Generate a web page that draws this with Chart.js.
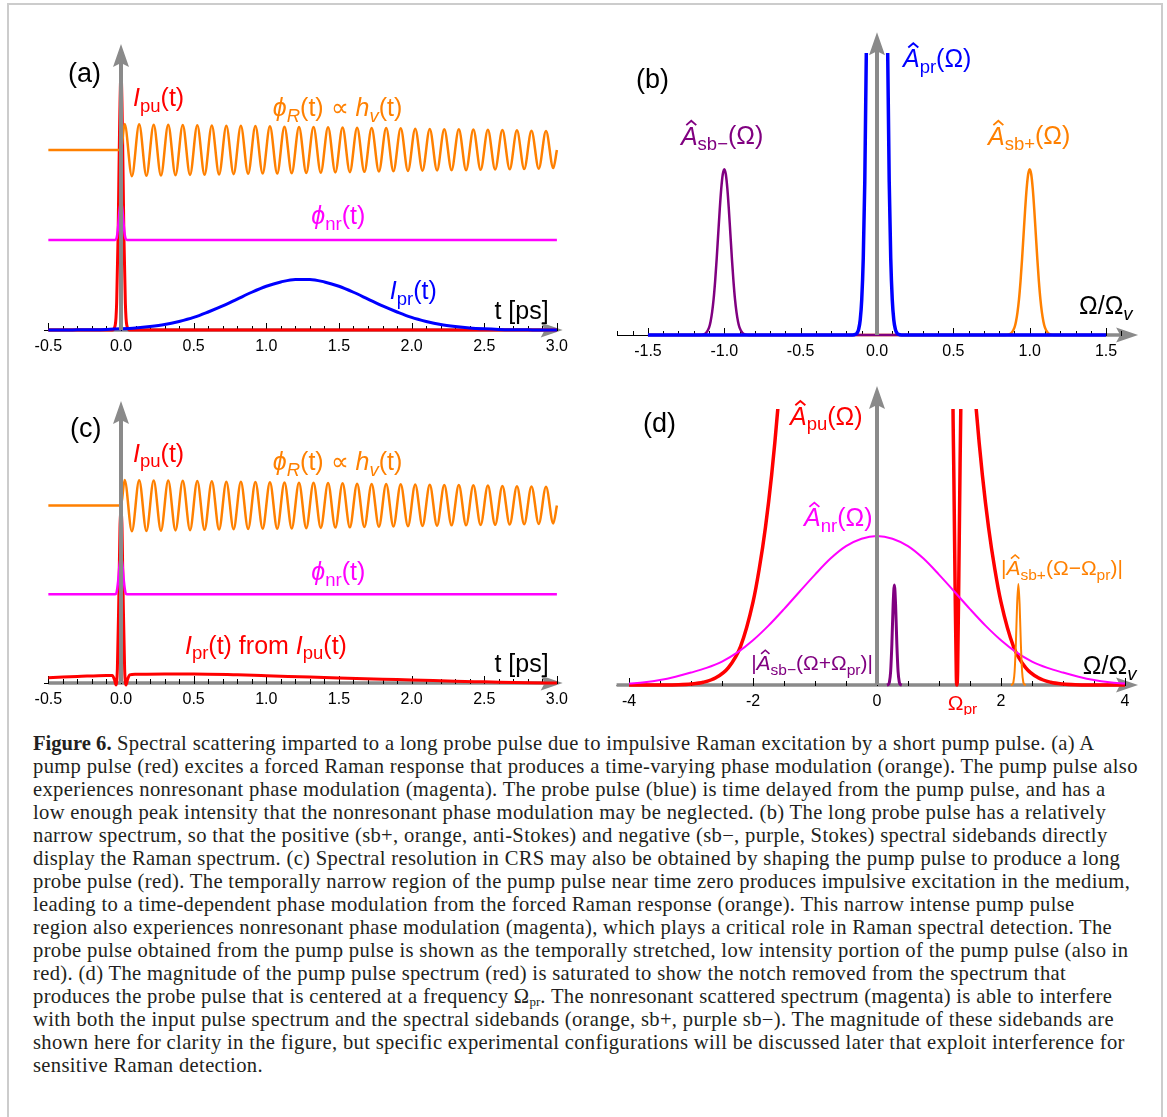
<!DOCTYPE html>
<html><head><meta charset="utf-8">
<script src="https://cdn.jsdelivr.net/npm/chart.js@4.4.1/dist/chart.umd.min.js"></script>
<style>
html,body{margin:0;padding:0;background:#fff;}
body{width:1167px;height:1117px;position:relative;overflow:hidden;}
#frame{position:absolute;left:7px;top:3px;width:1156px;height:1140px;border:2px solid #cccccc;box-sizing:border-box;}
canvas{position:absolute;}
#cap{position:absolute;left:33px;top:732px;font-family:"Liberation Serif","Times New Roman",serif;font-size:20.6px;letter-spacing:0.33px;line-height:23px;color:#231f20;white-space:nowrap;}
#cap b{font-weight:bold;letter-spacing:0;}
#cap sub{font-size:13px;vertical-align:-3px;line-height:0;letter-spacing:0;}
</style></head><body>
<div id="frame"></div>
<canvas id="ca"></canvas><canvas id="cb"></canvas><canvas id="cc"></canvas><canvas id="cd"></canvas>
<div id="cap"><b>Figure 6.</b> Spectral scattering imparted to a long probe pulse due to impulsive Raman excitation by a short pump pulse. (a) A<br>pump pulse (red) excites a forced Raman response that produces a time-varying phase modulation (orange). The pump pulse also<br>experiences nonresonant phase modulation (magenta). The probe pulse (blue) is time delayed from the pump pulse, and has a<br>low enough peak intensity that the nonresonant phase modulation may be neglected. (b) The long probe pulse has a relatively<br>narrow spectrum, so that the positive (sb+, orange, anti-Stokes) and negative (sb−, purple, Stokes) spectral sidebands directly<br>display the Raman spectrum. (c) Spectral resolution in CRS may also be obtained by shaping the pump pulse to produce a long<br>probe pulse (red). The temporally narrow region of the pump pulse near time zero produces impulsive excitation in the medium,<br>leading to a time-dependent phase modulation from the forced Raman response (orange). This narrow intense pump pulse<br>region also experiences nonresonant phase modulation (magenta), which plays a critical role in Raman spectral detection. The<br>probe pulse obtained from the pump pulse is shown as the temporally stretched, low intensity portion of the pump pulse (also in<br>red). (d) The magnitude of the pump pulse spectrum (red) is saturated to show the notch removed from the spectrum that<br>produces the probe pulse that is centered at a frequency Ω<sub>pr</sub>. The nonresonant scattered spectrum (magenta) is able to interfere<br>with both the input pulse spectrum and the spectral sidebands (orange, sb+, purple sb−). The magnitude of these sidebands are<br>shown here for clarity in the figure, but specific experimental configurations will be discussed later that exploit interference for<br>sensitive Raman detection.</div>
<script>
// ---------------- DATA ----------------
// time-domain panels (a) and (c)
const tTickValues = [-0.5, 0, 0.5, 1, 1.5, 2, 2.5, 3];
const tTickLabels = ['-0.5', '0.0', '0.5', '1.0', '1.5', '2.0', '2.5', '3.0'];

const pumpT = [-0.5, -0.06, -0.04, -0.03, -0.02, -0.01, 0, 0.01, 0.02, 0.03, 0.04, 0.06, 3.0];
const pumpI = [0, 0, 0.016, 0.094, 0.33, 0.70, 0.90, 0.70, 0.33, 0.094, 0.016, 0, 0];

const ramanRest = 0.629;
const ramanPeakT = [0.025,0.125,0.225,0.325,0.425,0.525,0.625,0.725,0.825,0.925,1.025,1.125,1.225,1.325,1.425,1.525,1.625,1.725,1.825,1.925,2.025,2.125,2.225,2.325,2.425,2.525,2.625,2.725,2.825,2.925];
const ramanPeakV = [0.720,0.719,0.718,0.718,0.717,0.716,0.715,0.714,0.714,0.713,0.712,0.711,0.710,0.710,0.709,0.708,0.707,0.706,0.706,0.705,0.704,0.703,0.702,0.702,0.701,0.700,0.699,0.698,0.697,0.696];
const ramanTroughT = [0.075,0.175,0.275,0.375,0.475,0.575,0.675,0.775,0.875,0.975,1.075,1.175,1.275,1.375,1.475,1.575,1.675,1.775,1.875,1.975,2.075,2.175,2.275,2.375,2.475,2.575,2.675,2.775,2.875,2.975];
const ramanTroughV = [0.538,0.539,0.540,0.541,0.542,0.543,0.544,0.545,0.546,0.547,0.547,0.548,0.549,0.550,0.551,0.552,0.553,0.554,0.555,0.556,0.557,0.558,0.559,0.559,0.560,0.561,0.562,0.563,0.564,0.566];

const nrT = [-0.5, -0.04, -0.03, -0.02, -0.01, 0, 0.01, 0.02, 0.03, 0.04, 3.0];
const nrV = [0.315, 0.315, 0.322, 0.36, 0.42, 0.448, 0.42, 0.36, 0.322, 0.315, 0.315];

const probeT = [-0.5,-0.4,-0.3,-0.2,-0.1,0,0.1,0.2,0.3,0.4,0.5,0.6,0.7,0.8,0.9,1.0,1.1,1.2,1.3,1.4,1.5,1.6,1.7,1.8,1.9,2.0,2.1,2.2,2.3,2.4,2.5,2.6,2.7,2.8,2.9,3.0];
const probeI = [0,0,0.0005,0.001,0.002,0.004,0.007,0.012,0.019,0.030,0.044,0.063,0.084,0.108,0.132,0.153,0.168,0.177,0.177,0.168,0.153,0.132,0.108,0.084,0.063,0.044,0.030,0.019,0.012,0.007,0.004,0.002,0.001,0.0005,0,0];

const shapedT = [-0.5,-0.3,-0.1,-0.06,-0.045,-0.035,-0.025,-0.015,-0.007,0,0.007,0.015,0.025,0.035,0.045,0.06,0.1,0.3,0.5,0.8,1.0,1.3,1.5,1.8,2.0,2.3,2.5,2.8,3.0];
const shapedI = [0.019,0.023,0.027,0.027,0.012,-0.007,0.05,0.30,0.55,0.606,0.55,0.30,0.05,-0.007,0.012,0.029,0.031,0.032,0.032,0.029,0.026,0.021,0.018,0.013,0.011,0.006,0.004,0.001,0];

// spectral panel (b)
const wTickValuesB = [-1.5, -1, -0.5, 0, 0.5, 1, 1.5];
const wTickLabelsB = ['-1.5', '-1.0', '-0.5', '0.0', '0.5', '1.0', '1.5'];
const prSpecW = [-1.5,-0.16,-0.14,-0.13,-0.12,-0.11,-0.10,-0.09,-0.08,-0.07,-0.06,-0.05,-0.04,-0.02,0,0.02,0.04,0.05,0.06,0.07,0.08,0.09,0.10,0.11,0.12,0.13,0.14,0.16,1.5];
const prSpecA = [0,0,0.0025,0.0075,0.021,0.053,0.125,0.271,0.543,1.0,1.70,2.67,3.85,6.29,7.4,6.29,3.85,2.67,1.70,1.0,0.543,0.271,0.125,0.053,0.021,0.0075,0.0025,0,0];
const sbMinusW = [-1.5,-1.16,-1.14,-1.12,-1.10,-1.09,-1.08,-1.07,-1.06,-1.05,-1.04,-1.03,-1.02,-1.01,-1.0,-0.99,-0.98,-0.97,-0.96,-0.95,-0.94,-0.93,-0.92,-0.91,-0.90,-0.88,-0.86,-0.84,1.5];
const sbPlusW  = [-1.5,0.84,0.86,0.88,0.90,0.91,0.92,0.93,0.94,0.95,0.96,0.97,0.98,0.99,1.0,1.01,1.02,1.03,1.04,1.05,1.06,1.07,1.08,1.09,1.10,1.12,1.14,1.16,1.5];
const sbA      = [0,0,0.0013,0.0065,0.026,0.047,0.080,0.127,0.191,0.269,0.357,0.444,0.519,0.570,0.588,0.570,0.519,0.444,0.357,0.269,0.191,0.127,0.080,0.047,0.026,0.0065,0.0013,0,0];

// spectral panel (d)
const wTickValuesD = [-4, -2, 0, 2, 4];
const wTickLabelsD = ['-4', '-2', '0', '2', '4'];
const omegaPr = 1.28;
const puSpecW = [-4,-3.5,-3.2,-3.0,-2.8,-2.6,-2.4,-2.2,-2.0,-1.9,-1.8,-1.7,-1.6,-1.5,-1.3,-1.0,-0.5,0,0.5,1.0,1.1,1.2,1.22,1.24,1.26,1.28,1.29,1.30,1.32,1.34,1.36,1.38,1.4,1.5,1.6,1.7,1.8,1.9,2.0,2.2,2.4,2.6,2.8,3.0,3.2,3.5,4];
const puSpecA = [0,0.0002,0.001,0.0035,0.010,0.026,0.062,0.14,0.30,0.42,0.57,0.76,1.0,1.3,2.1,3.7,7,9,7,3.7,3.2,2.6,1.2,0.75,0.35,0.03,0,0.05,0.4,0.8,1.15,1.6,1.7,1.3,1.0,0.76,0.57,0.42,0.30,0.14,0.062,0.026,0.010,0.0035,0.001,0.0002,0];
const nrSpecW = [-4,-3.75,-3.5,-3.25,-3,-2.75,-2.5,-2.25,-2,-1.75,-1.5,-1.25,-1,-0.75,-0.5,-0.25,0,0.25,0.5,0.75,1,1.25,1.5,1.75,2,2.25,2.5,2.75,3,3.25,3.5,3.75,4];
const nrSpecA = [0.005,0.010,0.018,0.030,0.045,0.062,0.085,0.118,0.162,0.215,0.275,0.338,0.400,0.458,0.503,0.530,0.540,0.530,0.503,0.458,0.400,0.338,0.275,0.215,0.162,0.118,0.085,0.062,0.045,0.030,0.018,0.010,0.005];
const sbMinusDW = [0.16,0.18,0.20,0.22,0.24,0.26,0.28,0.30,0.32,0.34,0.36,0.38,0.40];
const sbMinusDA = [0,0.0015,0.010,0.049,0.149,0.290,0.362,0.290,0.149,0.049,0.010,0.0015,0];
const sbPlusDW  = [2.16,2.18,2.20,2.22,2.24,2.26,2.28,2.30,2.32,2.34,2.36,2.38,2.40];
const sbPlusDA  = [0,0.0015,0.010,0.050,0.151,0.293,0.366,0.293,0.151,0.050,0.010,0.0015,0];

// ---------------- COLOURS ----------------
const RED = '#ff0000', ORANGE = '#ff8000', MAGENTA = '#ff00ff', BLUE = '#0000ff', PURPLE = '#800080', GRAY = '#8a8a8a';
const FONT = '"Liberation Sans", Arial, sans-serif';
const SUB = 0.74;

function pts(xs, ys) { return xs.map((x, i) => ({ x: x, y: ys[i] })); }
function ramanPts() {
  const p = [{ x: -0.5, y: ramanRest }, { x: 0, y: ramanRest }];
  for (let i = 0; i < ramanPeakT.length; i++) {
    p.push({ x: ramanPeakT[i], y: ramanPeakV[i] });
    p.push({ x: ramanTroughT[i], y: ramanTroughV[i] });
  }
  p.push({ x: 3.0, y: ramanRest });
  return p;
}
function ds(data, color, w) {
  return { data: data, borderColor: color, borderWidth: w, fill: false, pointRadius: 0, cubicInterpolationMode: 'monotone' };
}

// parts: [text, flags]; flags: i = italic, s = subscript, h = hat over letter
function rich(ctx, x, y, parts, color, size) {
  let cx = x;
  for (const [t, f] of parts) {
    const sub = f.includes('s'), it = f.includes('i'), hat = f.includes('h');
    const fs = sub ? size * SUB : size;
    ctx.font = (it ? 'italic ' : '') + fs + 'px ' + FONT;
    ctx.fillStyle = color;
    ctx.textBaseline = 'middle';
    ctx.textAlign = 'left';
    const yy = y + (sub ? size * 0.3 : 0);
    ctx.fillText(t, cx, yy);
    const w = ctx.measureText(t).width;
    if (hat) {
      const hx = cx + w * 0.62, hy = yy - size * 0.62;
      ctx.save();
      ctx.strokeStyle = color; ctx.lineWidth = size * 0.075; ctx.lineJoin = 'miter';
      ctx.beginPath();
      ctx.moveTo(hx - w * 0.3, hy + size * 0.12);
      ctx.lineTo(hx, hy - size * 0.05);
      ctx.lineTo(hx + w * 0.3, hy + size * 0.12);
      ctx.stroke();
      ctx.restore();
    }
    cx += w;
  }
}

function axisPlugin(P) {
  return {
    id: 'axes' + P.id,
    beforeDatasetsDraw(chart) {
      const ctx = chart.ctx, xs = chart.scales.x, ys = chart.scales.y;
      const yA = ys.getPixelForValue(0);
      const xL = xs.getPixelForValue(P.xMin), xTip = xs.getPixelForValue(P.xMax);
      const xS = xs.getPixelForValue(P.shaftFrom);
      ctx.save();
      ctx.strokeStyle = '#000'; ctx.lineWidth = 1;
      ctx.beginPath(); ctx.moveTo(xL, yA + 0.5); ctx.lineTo(xTip - 16, yA + 0.5); ctx.stroke();
      ctx.strokeStyle = GRAY; ctx.lineWidth = 3.5;
      ctx.beginPath(); ctx.moveTo(xS, yA); ctx.lineTo(xTip - 16, yA); ctx.stroke();
      ctx.fillStyle = GRAY;
      ctx.beginPath(); ctx.moveTo(xTip, yA); ctx.lineTo(xTip - 22, yA - 7.5); ctx.lineTo(xTip - 18, yA); ctx.lineTo(xTip - 22, yA + 7.5); ctx.closePath(); ctx.fill();
      ctx.strokeStyle = '#000'; ctx.lineWidth = 1;
      for (let v = P.minorFrom; v <= P.minorTo + 1e-9; v += P.minorStep) {
        const x = Math.round(xs.getPixelForValue(v)) + 0.5;
        ctx.beginPath(); ctx.moveTo(x, yA + 1); ctx.lineTo(x, yA - 4); ctx.stroke();
      }
      for (const v of P.majors) {
        const x = Math.round(xs.getPixelForValue(v)) + 0.5;
        ctx.beginPath(); ctx.moveTo(x, yA + 1); ctx.lineTo(x, yA - 7); ctx.stroke();
      }
      ctx.fillStyle = '#000'; ctx.font = '16px ' + FONT; ctx.textAlign = 'center'; ctx.textBaseline = 'middle';
      P.majors.forEach((v, i) => ctx.fillText(P.majorLabels[i], xs.getPixelForValue(v), yA + 17));
      ctx.restore();
    },
    afterDatasetsDraw(chart) {
      const ctx = chart.ctx, xs = chart.scales.x, ys = chart.scales.y;
      const x0 = xs.getPixelForValue(0), yA = ys.getPixelForValue(0), yT = ys.getPixelForValue(P.yTip);
      ctx.save();
      ctx.strokeStyle = GRAY; ctx.lineWidth = 4;
      ctx.beginPath(); ctx.moveTo(x0, yA); ctx.lineTo(x0, yT + 16); ctx.stroke();
      ctx.fillStyle = GRAY;
      ctx.beginPath(); ctx.moveTo(x0, yT); ctx.lineTo(x0 - 8, yT + 23); ctx.lineTo(x0, yT + 19); ctx.lineTo(x0 + 8, yT + 23); ctx.closePath(); ctx.fill();
      for (const L of P.labels) {
        rich(ctx, xs.getPixelForValue(L.x), ys.getPixelForValue(L.y), L.parts, L.color, L.size || 25);
      }
      ctx.restore();
    }
  };
}

function buildPanel(P) {
  const cv = document.getElementById(P.id);
  cv.width = P.w; cv.height = P.h;
  cv.style.left = P.left + 'px'; cv.style.top = P.top + 'px';
  cv.style.width = P.w + 'px'; cv.style.height = P.h + 'px';
  const padL = P.x0 + P.xMin * P.sx - P.left;
  const padR = P.w - (P.x0 + P.xMax * P.sx - P.left);
  const padT = P.y0 - P.yMax * P.sy - P.top;
  const padB = P.h - (P.y0 - P.yMin * P.sy - P.top);
  new Chart(cv, {
    type: 'line',
    data: { datasets: P.datasets.slice().reverse() },
    options: {
      responsive: false, animation: false, devicePixelRatio: 1,
      layout: { padding: { left: padL, right: padR, top: padT, bottom: padB } },
      scales: {
        x: { type: 'linear', min: P.xMin, max: P.xMax, display: false },
        y: { type: 'linear', min: P.yMin, max: P.yMax, display: false }
      },
      plugins: { legend: { display: false }, tooltip: { enabled: false }, title: { display: false } },
      elements: { point: { radius: 0 } }
    },
    plugins: [axisPlugin(P)]
  });
}

const labIpu = [['I', 'i'], ['pu', 's'], ['(t)', '']];
const labPhiR = [['ϕ', 'i'], ['R', 'si'], ['(t) ∝ ', ''], ['h', 'i'], ['v', 'si'], ['(t)', '']];
const labPhiNr = [['ϕ', 'i'], ['nr', 's'], ['(t)', '']];
const labT = [['t [ps]', '']];
const labW = [['Ω/Ω', ''], ['v', 'si']];
const A_ = ['A', 'ih'];

buildPanel({
  id: 'ca', left: 0, top: 0, w: 583, h: 370,
  x0: 121, sx: 145.3, y0: 330, sy: 286,
  xMin: -0.53, xMax: 3.04, yMin: -0.06, yMax: 1.0, yTip: 1.0,
  shaftFrom: -0.5, minorFrom: -0.5, minorTo: 3.0, minorStep: 0.1,
  majors: tTickValues, majorLabels: tTickLabels,
  datasets: [
    ds(pts(pumpT, pumpI), RED, 3),
    ds(ramanPts(), ORANGE, 2.5),
    ds(pts(nrT, nrV), MAGENTA, 2.5),
    ds(pts(probeT, probeI), BLUE, 3)
  ],
  labels: [
    { x: -0.365, y: 0.892, parts: [['(a)', '']], color: '#000', size: 27 },
    { x: 0.083, y: 0.808, parts: labIpu, color: RED },
    { x: 1.045, y: 0.773, parts: labPhiR, color: ORANGE },
    { x: 1.31, y: 0.395, parts: labPhiNr, color: MAGENTA },
    { x: 1.85, y: 0.133, parts: [['I', 'i'], ['pr', 's'], ['(t)', '']], color: BLUE },
    { x: 2.57, y: 0.063, parts: labT, color: '#000' }
  ]
});

buildPanel({
  id: 'cb', left: 583, top: 0, w: 584, h: 370,
  x0: 877, sx: 152.7, y0: 335, sy: 282,
  xMin: -1.70, xMax: 1.71, yMin: -0.06, yMax: 1.0, yTip: 1.074,
  shaftFrom: 1.5, minorFrom: -1.7, minorTo: 1.6, minorStep: 0.1,
  majors: wTickValuesB, majorLabels: wTickLabelsB,
  datasets: [
    ds(pts(sbPlusW, sbA), ORANGE, 2.5),
    ds(pts(sbMinusW, sbA), PURPLE, 2.5),
    ds(pts(prSpecW, prSpecA), BLUE, 3.5)
  ],
  labels: [
    { x: -1.578, y: 0.904, parts: [['(b)', '']], color: '#000', size: 27 },
    { x: 0.17, y: 0.975, parts: [A_, ['pr', 's'], ['(Ω)', '']], color: BLUE },
    { x: -1.284, y: 0.70, parts: [A_, ['sb−', 's'], ['(Ω)', '']], color: PURPLE },
    { x: 0.727, y: 0.70, parts: [A_, ['sb+', 's'], ['(Ω)', '']], color: ORANGE },
    { x: 1.323, y: 0.099, parts: labW, color: '#000' }
  ]
});

buildPanel({
  id: 'cc', left: 0, top: 370, w: 583, h: 345,
  x0: 121, sx: 145.3, y0: 683, sy: 282,
  xMin: -0.53, xMax: 3.04, yMin: -0.06, yMax: 1.0, yTip: 1.0,
  shaftFrom: -0.5, minorFrom: -0.5, minorTo: 3.0, minorStep: 0.1,
  majors: tTickValues, majorLabels: tTickLabels,
  datasets: [
    ds(pts(shapedT, shapedI), RED, 3),
    ds(ramanPts(), ORANGE, 2.5),
    ds(pts(nrT, nrV), MAGENTA, 2.5)
  ],
  labels: [
    { x: -0.351, y: 0.897, parts: [['(c)', '']], color: '#000', size: 27 },
    { x: 0.083, y: 0.809, parts: labIpu, color: RED },
    { x: 1.045, y: 0.78, parts: labPhiR, color: ORANGE },
    { x: 1.31, y: 0.39, parts: labPhiNr, color: MAGENTA },
    { x: 0.44, y: 0.128, parts: [['I', 'i'], ['pr', 's'], ['(t) from ', ''], ['I', 'i'], ['pu', 's'], ['(t)', '']], color: RED },
    { x: 2.57, y: 0.064, parts: labT, color: '#000' }
  ]
});

buildPanel({
  id: 'cd', left: 583, top: 370, w: 584, h: 345,
  x0: 877, sx: 62, y0: 685, sy: 276,
  xMin: -4.2, xMax: 4.21, yMin: -0.06, yMax: 1.0, yTip: 1.083,
  shaftFrom: -4.2, minorFrom: -4, minorTo: 4, minorStep: 0.5,
  majors: wTickValuesD, majorLabels: wTickLabelsD,
  datasets: [
    ds(pts(puSpecW, puSpecA), RED, 3.5),
    ds(pts(nrSpecW, nrSpecA), MAGENTA, 2),
    ds(pts(sbMinusDW, sbMinusDA), PURPLE, 3),
    ds(pts(sbPlusDW, sbPlusDA), ORANGE, 2)
  ],
  labels: [
    { x: -3.774, y: 0.942, parts: [['(d)', '']], color: '#000', size: 27 },
    { x: -1.403, y: 0.968, parts: [A_, ['pu', 's'], ['(Ω)', '']], color: RED },
    { x: -1.177, y: 0.60, parts: [A_, ['nr', 's'], ['(Ω)', '']], color: MAGENTA },
    { x: 2.0, y: 0.42, parts: [['|', ''], A_, ['sb+', 's'], ['(Ω−Ω', ''], ['pr', 's'], [')|', '']], color: ORANGE, size: 21 },
    { x: -2.03, y: 0.075, parts: [['|', ''], A_, ['sb−', 's'], ['(Ω+Ω', ''], ['pr', 's'], [')|', '']], color: PURPLE, size: 21 },
    { x: 3.32, y: 0.065, parts: labW, color: '#000' },
    { x: omegaPr - 0.14, y: -0.068, parts: [['Ω', ''], ['pr', 's']], color: RED, size: 21 }
  ]
});
</script>
</body></html>
